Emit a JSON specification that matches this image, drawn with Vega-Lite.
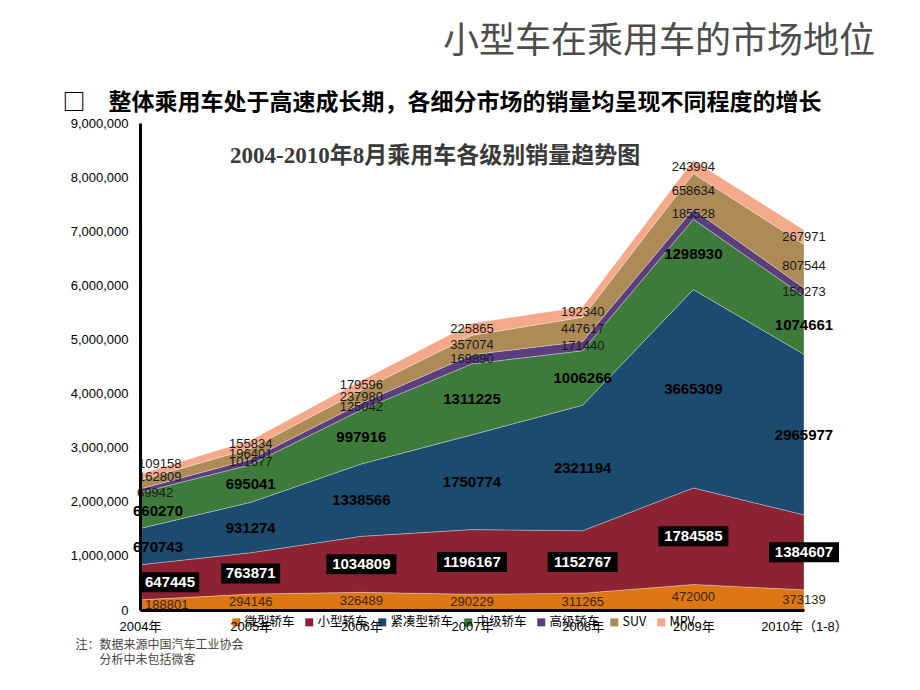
{
  "$schema": "https://vega.github.io/schema/vega-lite/v6.json",
  "autosize": {"type": "none"},
  "width": 664,
  "height": 487,
  "padding": {"left": 140, "top": 123, "right": 116, "bottom": 80},
  "background": "white",
  "title": {
    "text": "小型车在乘用车的市场地位",
    "anchor": "end",
    "frame": "group",
    "dx": 71,
    "offset": 30,
    "fontSize": 36,
    "fontWeight": "normal",
    "font": "Noto Sans CJK SC",
    "color": "#4d4d4d"
  },
  "config": {
    "view": {"stroke": null},
    "font": "Liberation Sans"
  },
  "data": {
    "values": [
      {"year": "2004年", "type": "微型轿车", "value": 188801},
      {"year": "2004年", "type": "小型轿车", "value": 647445},
      {"year": "2004年", "type": "紧凑型轿车", "value": 670743},
      {"year": "2004年", "type": "中级轿车", "value": 660270},
      {"year": "2004年", "type": "高级轿车", "value": 69942},
      {"year": "2004年", "type": "SUV", "value": 162809},
      {"year": "2004年", "type": "MPV", "value": 109158},
      {"year": "2005年", "type": "微型轿车", "value": 294146},
      {"year": "2005年", "type": "小型轿车", "value": 763871},
      {"year": "2005年", "type": "紧凑型轿车", "value": 931274},
      {"year": "2005年", "type": "中级轿车", "value": 695041},
      {"year": "2005年", "type": "高级轿车", "value": 101677},
      {"year": "2005年", "type": "SUV", "value": 196401},
      {"year": "2005年", "type": "MPV", "value": 155834},
      {"year": "2006年", "type": "微型轿车", "value": 326489},
      {"year": "2006年", "type": "小型轿车", "value": 1034809},
      {"year": "2006年", "type": "紧凑型轿车", "value": 1338566},
      {"year": "2006年", "type": "中级轿车", "value": 997916},
      {"year": "2006年", "type": "高级轿车", "value": 125042},
      {"year": "2006年", "type": "SUV", "value": 237980},
      {"year": "2006年", "type": "MPV", "value": 179596},
      {"year": "2007年", "type": "微型轿车", "value": 290229},
      {"year": "2007年", "type": "小型轿车", "value": 1196167},
      {"year": "2007年", "type": "紧凑型轿车", "value": 1750774},
      {"year": "2007年", "type": "中级轿车", "value": 1311225},
      {"year": "2007年", "type": "高级轿车", "value": 169890},
      {"year": "2007年", "type": "SUV", "value": 357074},
      {"year": "2007年", "type": "MPV", "value": 225865},
      {"year": "2008年", "type": "微型轿车", "value": 311265},
      {"year": "2008年", "type": "小型轿车", "value": 1152767},
      {"year": "2008年", "type": "紧凑型轿车", "value": 2321194},
      {"year": "2008年", "type": "中级轿车", "value": 1006266},
      {"year": "2008年", "type": "高级轿车", "value": 171440},
      {"year": "2008年", "type": "SUV", "value": 447617},
      {"year": "2008年", "type": "MPV", "value": 192340},
      {"year": "2009年", "type": "微型轿车", "value": 472000},
      {"year": "2009年", "type": "小型轿车", "value": 1784585},
      {"year": "2009年", "type": "紧凑型轿车", "value": 3665309},
      {"year": "2009年", "type": "中级轿车", "value": 1298930},
      {"year": "2009年", "type": "高级轿车", "value": 185528},
      {"year": "2009年", "type": "SUV", "value": 658634},
      {"year": "2009年", "type": "MPV", "value": 243994},
      {"year": "2010年（1-8）", "type": "微型轿车", "value": 373139},
      {"year": "2010年（1-8）", "type": "小型轿车", "value": 1384607},
      {"year": "2010年（1-8）", "type": "紧凑型轿车", "value": 2965977},
      {"year": "2010年（1-8）", "type": "中级轿车", "value": 1074661},
      {"year": "2010年（1-8）", "type": "高级轿车", "value": 150273},
      {"year": "2010年（1-8）", "type": "SUV", "value": 807544},
      {"year": "2010年（1-8）", "type": "MPV", "value": 267971}
    ]
  },
  "transform": [
    {"calculate": "indexof(['微型轿车','小型轿车','紧凑型轿车','中级轿车','高级轿车','SUV','MPV'], datum.type)", "as": "order"},
    {"stack": "value", "groupby": ["year"], "sort": [{"field": "order", "order": "ascending"}], "as": ["y0", "y1"]},
    {"calculate": "(datum.y0 + datum.y1) / 2", "as": "mid"}
  ],
  "encoding": {
    "x": {
      "field": "year",
      "type": "ordinal",
      "sort": ["2004年", "2005年", "2006年", "2007年", "2008年", "2009年", "2010年（1-8）"],
      "scale": {"type": "point", "padding": 0},
      "axis": {
        "zindex": 1,
        "labelAngle": 0,
        "labelFontSize": 13,
        "labelFont": "Liberation Sans, Noto Sans CJK SC",
        "labelColor": "#000000",
        "labelPadding": 10,
        "ticks": false,
        "domainColor": "#000000",
        "domainWidth": 3,
        "grid": false,
        "title": ["注：数据来源中国汽车工业协会", "\u200B\u3000\u3000分析中未包括微客"],
        "titleX": -65,
        "titleY": 29,
        "titleAlign": "left",
        "titleAnchor": "start",
        "titleBaseline": "top",
        "titleAngle": 0,
        "titleFont": "Noto Sans CJK SC",
        "titleFontSize": 12,
        "titleFontWeight": "normal",
        "titleColor": "#444444",
        "titleLineHeight": 15
      }
    },
    "y": {
      "field": "mid",
      "type": "quantitative",
      "scale": {"domain": [0, 9000000], "nice": false},
      "axis": {
        "zindex": 1,
        "values": [0, 1000000, 2000000, 3000000, 4000000, 5000000, 6000000, 7000000, 8000000, 9000000],
        "labelExpr": "format(datum.value, ',')",
        "labelFontSize": 13,
        "labelFont": "Liberation Sans",
        "labelColor": "#000000",
        "labelPadding": 12,
        "ticks": false,
        "grid": false,
        "domainColor": "#000000",
        "domainWidth": 3,
        "title": "□　整体乘用车处于高速成长期，各细分市场的销量均呈现不同程度的增长",
        "titleX": -78,
        "titleY": -21,
        "titleAngle": 0,
        "titleAlign": "left",
        "titleAnchor": "start",
        "titleBaseline": "middle",
        "titleFont": "Noto Sans CJK SC",
        "titleFontSize": 23,
        "titleFontWeight": "bold",
        "titleColor": "#000000"
      }
    }
  },
  "layer": [
    {
      "mark": {"type": "area", "stroke": "#ffffff", "strokeWidth": 0.6, "strokeOpacity": 0.5},
      "encoding": {
        "y": {
          "field": "y0",
          "type": "quantitative",
          "scale": {"domain": [0, 9000000], "nice": false},
          "axis": {
            "zindex": 1,
            "values": [0, 1000000, 2000000, 3000000, 4000000, 5000000, 6000000, 7000000, 8000000, 9000000],
            "labelExpr": "format(datum.value, ',')",
            "labelFontSize": 13,
            "labelFont": "Liberation Sans",
            "labelColor": "#000000",
            "labelPadding": 12,
            "ticks": false,
            "grid": false,
            "domainColor": "#000000",
            "domainWidth": 3,
            "title": "□　整体乘用车处于高速成长期，各细分市场的销量均呈现不同程度的增长",
            "titleX": -78,
            "titleY": -21,
            "titleAngle": 0,
            "titleAlign": "left",
            "titleAnchor": "start",
            "titleBaseline": "middle",
            "titleFont": "Noto Sans CJK SC",
            "titleFontSize": 23,
            "titleFontWeight": "bold",
            "titleColor": "#000000"
          }
        },
        "y2": {"field": "y1"},
        "color": {
          "field": "type",
          "type": "nominal",
          "scale": {
            "domain": ["微型轿车", "小型轿车", "紧凑型轿车", "中级轿车", "高级轿车", "SUV", "MPV"],
            "range": ["#DD7613", "#8C2232", "#1B4C70", "#3E7B3A", "#5C3E7E", "#AD8A56", "#F4A98A"]
          },
          "legend": {
            "orient": "none",
            "legendX": 90,
            "legendY": 22,
            "direction": "horizontal",
            "columns": 7,
            "padding": 0,
            "symbolType": "square",
            "symbolSize": 64,
            "symbolStrokeWidth": 0,
            "labelFont": "Noto Sans CJK SC",
            "labelFontSize": 12.5,
            "labelColor": "#000000",
            "labelOffset": 2,
            "columnPadding": 8,
            "title": "2004-2010年8月乘用车各级别销量趋势图",
            "titleOrient": "top",
            "titleAnchor": "start",
            "titlePadding": 448,
            "titleFont": "Liberation Serif, Noto Sans CJK SC",
            "titleFontSize": 23,
            "titleFontWeight": "bold",
            "titleColor": "#3a3a3a",
            "titleLimit": 600
          }
        }
      }
    },
    {
      "transform": [{"filter": "datum.type == '小型轿车'"}],
      "mark": {"type": "point", "filled": true, "color": "#000000", "opacity": 1, "strokeWidth": 0, "size": 4900},
      "encoding": {
        "shape": {
          "condition": [
            {"test": "datum.year == '2004年'", "value": "M-0.03,-0.286H1.69V0.286H-0.03Z"},
            {"test": "datum.value < 1000000", "value": "M-0.843,-0.286H0.843V0.286H-0.843Z"}
          ],
          "value": "M-1,-0.286H1V0.286H-1Z"
        }
      }
    },
    {
      "transform": [{"filter": "datum.type == '小型轿车' && datum.year != '2004年'"}],
      "mark": {"type": "text", "color": "#ffffff", "fontWeight": "bold", "fontSize": 15, "font": "Liberation Sans", "baseline": "middle"},
      "encoding": {"text": {"field": "value", "type": "quantitative", "format": "d"}}
    },
    {
      "transform": [{"filter": "datum.type == '小型轿车' && datum.year == '2004年'"}],
      "mark": {"type": "text", "color": "#ffffff", "fontWeight": "bold", "fontSize": 15, "font": "Liberation Sans", "baseline": "middle", "align": "left", "dx": 5},
      "encoding": {"text": {"field": "value", "type": "quantitative", "format": "d"}}
    },
    {
      "transform": [{"filter": "(datum.type == '紧凑型轿车' || datum.type == '中级轿车') && datum.year != '2004年'"}],
      "mark": {"type": "text", "color": "#000000", "fontWeight": "bold", "fontSize": 15, "font": "Liberation Sans", "baseline": "middle"},
      "encoding": {"text": {"field": "value", "type": "quantitative", "format": "d"}}
    },
    {
      "transform": [{"filter": "(datum.type == '紧凑型轿车' || datum.type == '中级轿车') && datum.year == '2004年'"}],
      "mark": {"type": "text", "color": "#000000", "fontWeight": "bold", "fontSize": 15, "font": "Liberation Sans", "baseline": "middle", "align": "left", "dx": -7},
      "encoding": {"text": {"field": "value", "type": "quantitative", "format": "d"}}
    },
    {
      "transform": [{"filter": "datum.type == '微型轿车' && datum.year != '2004年'"}],
      "mark": {"type": "text", "color": "#3a2608", "fontSize": 13, "font": "Liberation Sans", "baseline": "middle"},
      "encoding": {"text": {"field": "value", "type": "quantitative", "format": "d"}}
    },
    {
      "transform": [{"filter": "datum.type == '微型轿车' && datum.year == '2004年'"}],
      "mark": {"type": "text", "color": "#3a2608", "fontSize": 13, "font": "Liberation Sans", "baseline": "middle", "align": "left", "dx": 5},
      "encoding": {"text": {"field": "value", "type": "quantitative", "format": "d"}}
    },
    {
      "transform": [{"filter": "(datum.type == '高级轿车' || datum.type == 'SUV' || datum.type == 'MPV') && datum.year != '2004年'"}],
      "mark": {"type": "text", "color": "#1a1a1a", "fontSize": 13, "font": "Liberation Sans", "baseline": "middle"},
      "encoding": {"text": {"field": "value", "type": "quantitative", "format": "d"}}
    },
    {
      "transform": [{"filter": "datum.type == '高级轿车' && datum.year == '2004年'"}],
      "mark": {"type": "text", "color": "#1a1a1a", "fontSize": 13, "font": "Liberation Sans", "baseline": "middle", "align": "left", "dx": -3, "dy": 2},
      "encoding": {"text": {"field": "value", "type": "quantitative", "format": "d"}}
    },
    {
      "transform": [{"filter": "datum.type == 'SUV' && datum.year == '2004年'"}],
      "mark": {"type": "text", "color": "#1a1a1a", "fontSize": 13, "font": "Liberation Sans", "baseline": "middle", "align": "left", "dx": -2, "dy": -8},
      "encoding": {"text": {"field": "value", "type": "quantitative", "format": "d"}}
    },
    {
      "transform": [{"filter": "datum.type == 'MPV' && datum.year == '2004年'"}],
      "mark": {"type": "text", "color": "#1a1a1a", "fontSize": 13, "font": "Liberation Sans", "baseline": "middle", "align": "left", "dx": -2, "dy": -13},
      "encoding": {"text": {"field": "value", "type": "quantitative", "format": "d"}}
    }
  ]
}
